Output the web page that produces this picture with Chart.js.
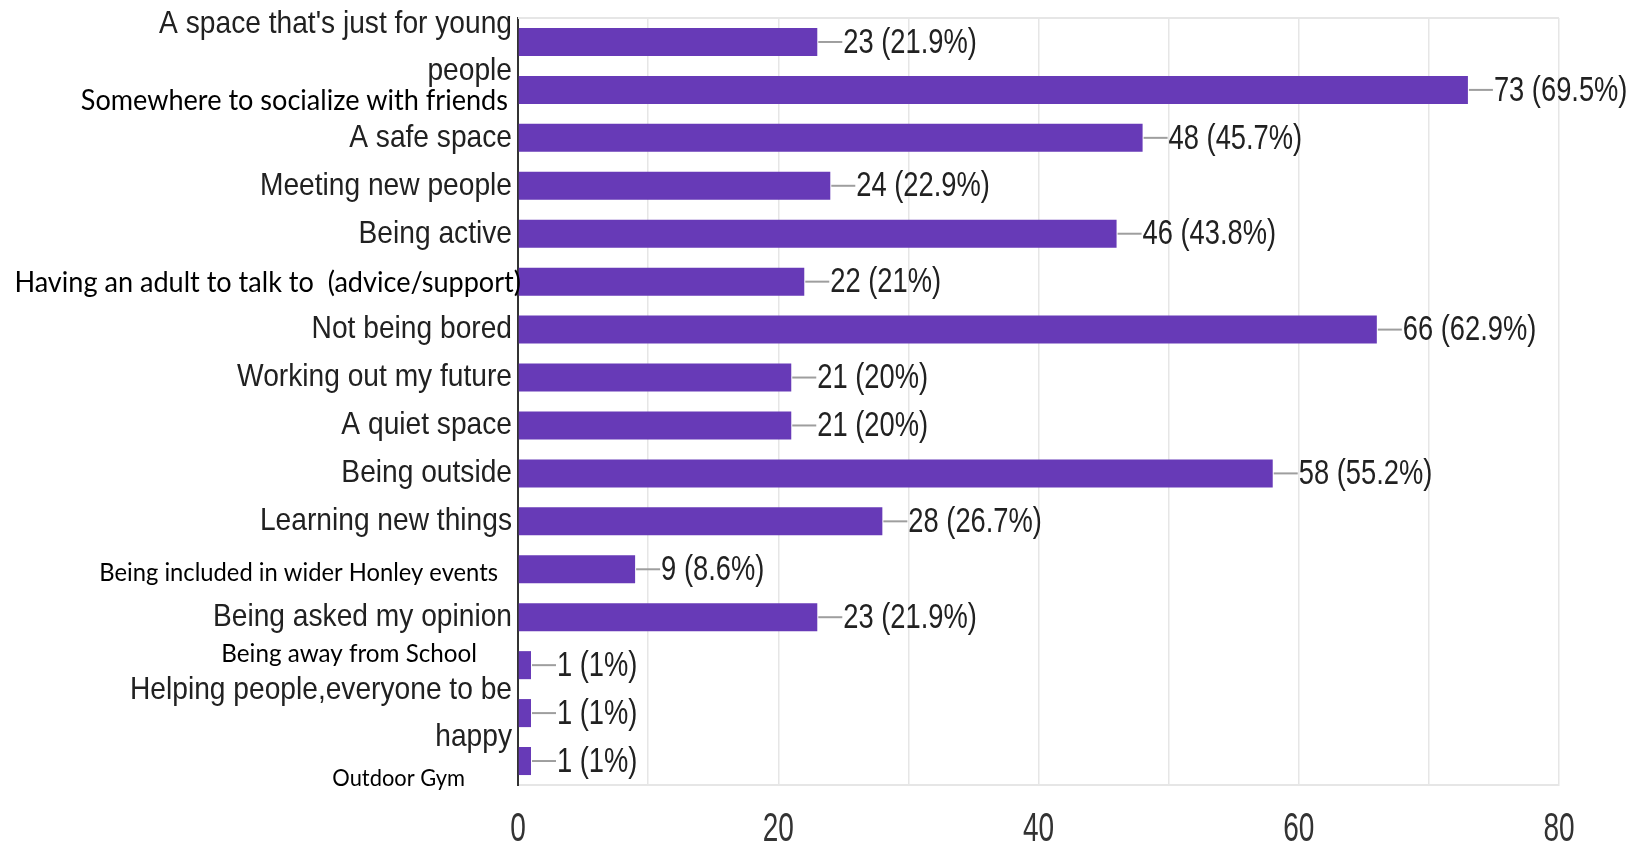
<!DOCTYPE html>
<html>
<head>
<meta charset="utf-8">
<script src="https://cdn.jsdelivr.net/npm/chart.js@4/dist/chart.umd.min.js"></script>
<style>
  html, body { margin: 0; padding: 0; background: #fff; }
  #wrap { width: 1635px; height: 845px; }
</style>
</head>
<body>
<div id="wrap"><canvas id="chart"></canvas></div>
<script>
// data
const categories = [
  ["A space that's just for young", "people"],
  "Somewhere to socialize with friends",
  "A safe space",
  "Meeting new people",
  "Being active",
  "Having an adult to talk to  (advice/support)",
  "Not being bored",
  "Working out my future",
  "A quiet space",
  "Being outside",
  "Learning new things",
  "Being included in wider Honley events",
  "Being asked my opinion",
  "Being away from School",
  ["Helping people,everyone to be", "happy"],
  "Outdoor Gym"
];
const counts   = [23, 73, 48, 24, 46, 22, 66, 21, 21, 58, 28, 9, 23, 1, 1, 1];
const percents = ["21.9%", "69.5%", "45.7%", "22.9%", "43.8%", "21%", "62.9%", "20%", "20%",
                  "55.2%", "26.7%", "8.6%", "21.9%", "1%", "1%", "1%"];
const xTicks   = [0, 20, 40, 60, 80];

// label looks: "g" = chart's own text, "c" = text pasted over it later (own size, shifted a bit)
const labelLook = [
  { k: "g", dx: 0,   dy: 6 },
  { k: "c", dx: -4,  dy: 11, size: 28.5 },
  { k: "g", dx: 0,   dy: 0 },
  { k: "g", dx: 0,   dy: 0 },
  { k: "g", dx: 0,   dy: 0 },
  { k: "c", dx: 9,   dy: 1,  size: 28.5 },
  { k: "g", dx: 0,   dy: 0 },
  { k: "g", dx: 0,   dy: 0 },
  { k: "g", dx: 0,   dy: 0 },
  { k: "g", dx: 0,   dy: 0 },
  { k: "g", dx: 0,   dy: 0 },
  { k: "c", dx: -14, dy: 4,  size: 25 },
  { k: "g", dx: 0,   dy: 0 },
  { k: "c", dx: -35, dy: -11, size: 25.5 },
  { k: "g", dx: 0,   dy: 1 },
  { k: "c", dx: -47, dy: 18, size: 23 }
];
const FONTS = {
  g: { fam: '"Liberation Sans", Arial, sans-serif', size: 32, sx: 0.88, color: "#212121" },
  c: { fam: 'Lato, "Open Sans", sans-serif', size: 25, sx: 0.95, color: "#000" }
};

function squeezed(ctx, text, x, y, font, sx, align, color) {
  ctx.save();
  ctx.font = font;
  ctx.fillStyle = color;
  ctx.textAlign = align;
  ctx.textBaseline = "middle";
  ctx.translate(x, y);
  ctx.scale(sx, 1);
  ctx.fillText(text, 0, 0);
  ctx.restore();
}

const extras = {
  id: "extras",
  beforeDatasetsDraw(chart) {
    const { ctx, chartArea: a } = chart;
    ctx.save();
    ctx.strokeStyle = "#e6e6e6";
    ctx.lineWidth = 2;
    ctx.beginPath();
    ctx.moveTo(a.left, a.top);
    ctx.lineTo(a.right, a.top);
    ctx.stroke();
    ctx.restore();
  },
  afterDatasetsDraw(chart) {
    const { ctx, chartArea: a } = chart;
    const xs = chart.scales.x, ys = chart.scales.y;

    // value labels with the little leader line
    chart.getDatasetMeta(0).data.forEach((bar, i) => {
      const x0 = bar.x, y0 = bar.y;
      ctx.save();
      ctx.strokeStyle = "#9e9e9e";
      ctx.lineWidth = 2;
      ctx.beginPath();
      ctx.moveTo(x0 + 1, y0);
      ctx.lineTo(x0 + 25, y0);
      ctx.stroke();
      ctx.restore();
      squeezed(ctx, counts[i] + " (" + percents[i] + ")", x0 + 26, y0 + 1,
               '35px "Liberation Sans", Arial, sans-serif', 0.78, "left", "#212121");
    });

    // category labels
    categories.forEach((lab, i) => {
      const look = labelLook[i], f = FONTS[look.k];
      const font = (look.size || f.size) + "px " + f.fam;
      const lines = Array.isArray(lab) ? lab : [lab];
      const yc = ys.getPixelForValue(i) + look.dy;
      const lh = 47;
      lines.forEach((ln, j) => {
        const y = yc + (j - (lines.length - 1) / 2) * lh;
        squeezed(ctx, ln, a.left - 6 + look.dx, y, font, f.sx, "right", f.color);
      });
    });

    // x tick labels
    xTicks.forEach(v => {
      squeezed(ctx, String(v), xs.getPixelForValue(v), a.bottom + 45,
               '40px "Liberation Sans", Arial, sans-serif', 0.7, "center", "#333");
    });
  }
};

new Chart(document.getElementById("chart"), {
  type: "bar",
  data: {
    labels: categories,
    datasets: [{
      data: counts,
      backgroundColor: "#673ab7",
      borderWidth: 0,
      barPercentage: 0.585,
      categoryPercentage: 1
    }]
  },
  options: {
    indexAxis: "y",
    responsive: true,
    maintainAspectRatio: false,
    animation: false,
    layout: { padding: { left: 518, right: 76, top: 18, bottom: 60 } },
    scales: {
      x: {
        min: 0, max: 80,
        ticks: { stepSize: 10, display: false },
        grid: { color: "#e6e6e6", lineWidth: 1.5, drawTicks: false },
        border: { color: "#e6e6e6", width: 2 }
      },
      y: {
        ticks: { display: false },
        grid: { color: "rgba(0,0,0,0)", drawTicks: false },
        border: { color: "#333", width: 2 }
      }
    },
    plugins: {
      legend: { display: false },
      tooltip: { enabled: false }
    }
  },
  plugins: [extras]
});
</script>
</body>
</html>
